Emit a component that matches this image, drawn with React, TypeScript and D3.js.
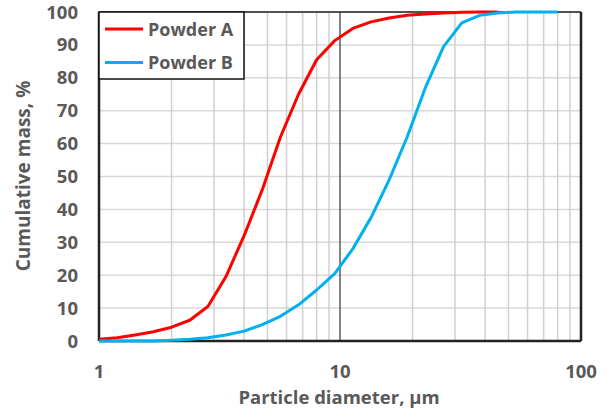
import React from "react";
import * as d3 from "d3";

// particle size classes, µm
const sizes = [1, 1.19, 1.41, 1.68, 2, 2.38, 2.83, 3.36, 4, 4.76, 5.66, 6.73, 8, 9.51, 11.3, 13.45, 16, 19, 22.6, 26.9, 32, 38, 45, 54, 64, 80];
// cumulative mass, %
const powderA = [0.5, 1.0, 1.8, 2.8, 4.2, 6.3, 10.5, 19.5, 32, 46, 62, 75, 85.5, 91.3, 95, 97, 98.2, 99, 99.4, 99.7, 99.9, 100, 100, null, null, null];
const powderB = [0, 0, 0, 0, 0.2, 0.5, 1, 1.8, 3, 5, 7.5, 11, 15.5, 20.5, 28, 37.5, 49, 62, 77, 89.5, 96.7, 99, 99.7, 100, 100, 100];
const seriesNames = ["Powder A", "Powder B"];
const seriesColors = ["#ff0000", "#00b0f0"];
const yTicks = [0, 10, 20, 30, 40, 50, 60, 70, 80, 90, 100];
const xTickLabels = [1, 10, 100];
const xGrid = [2, 3, 4, 5, 6, 7, 8, 9, 20, 30, 40, 50, 60, 70, 80, 90];

export default function App() {
  const width = 608, height = 419;
  const m = { left: 99, right: 581, top: 12, bottom: 341 };
  const x = d3.scaleLog().domain([1, 100]).range([m.left, m.right]);
  const y = d3.scaleLinear().domain([0, 100]).range([m.bottom, m.top]);
  const font = "'Open Sans', 'Liberation Sans', sans-serif";
  const textColor = "#595959";

  const series = [powderA, powderB];
  const line = d3.line<number | null>()
    .defined(d => d !== null)
    .x((_, i) => x(sizes[i]))
    .y(d => y(d as number));

  return (
    <svg width={width} height={height} style={{ position: "absolute", left: 0, top: 0, background: "#fff" }}>
      {/* gridlines */}
      {yTicks.map(t => (
        <line key={"gy" + t} x1={m.left} x2={m.right} y1={y(t)} y2={y(t)} stroke="#d9d9d9" strokeWidth={1.5} />
      ))}
      {xGrid.map(t => (
        <line key={"gx" + t} x1={x(t)} x2={x(t)} y1={m.top} y2={m.bottom} stroke="#d0d0d0" strokeWidth={1.5} />
      ))}
      <line x1={x(10)} x2={x(10)} y1={m.top} y2={m.bottom} stroke="#333" strokeWidth={1.2} />

      {/* frame */}
      <line x1={m.left} x2={m.right} y1={m.top} y2={m.top} stroke="#222" strokeWidth={1.5} />
      <line x1={m.right} x2={m.right} y1={m.top} y2={m.bottom} stroke="#222" strokeWidth={2.5} />
      <line x1={m.left} x2={m.right} y1={m.bottom} y2={m.bottom} stroke="#222" strokeWidth={2.5} />
      <line x1={m.left} x2={m.left} y1={m.top} y2={m.bottom} stroke="#222" strokeWidth={2.5} />

      {/* curves, B drawn over A */}
      {series.map((s, i) => (
        <path key={seriesNames[i]} d={line(s) || ""} fill="none" stroke={seriesColors[i]} strokeWidth={3} strokeLinejoin="round" />
      ))}

      {/* tick labels */}
      {yTicks.map(t => (
        <text key={"ty" + t} x={78} y={y(t) + 6.5} textAnchor="end" fontFamily={font} fontWeight="bold" fontSize={18.5} fill={textColor}>{t}</text>
      ))}
      {xTickLabels.map(t => (
        <text key={"tx" + t} x={x(t)} y={378} textAnchor="middle" fontFamily={font} fontWeight="bold" fontSize={18.5} fill={textColor}>{t}</text>
      ))}

      {/* axis titles */}
      <text x={339} y={404} textAnchor="middle" fontFamily={font} fontWeight="bold" fontSize={18.5} fill={textColor}>Particle diameter, µm</text>
      <text transform={`translate(30, 176) rotate(-90)`} textAnchor="middle" fontFamily={font} fontWeight="bold" fontSize={19} fill={textColor}>Cumulative mass, %</text>

      {/* legend */}
      <rect x={m.left} y={m.top} width={145} height={67} fill="#fff" stroke="#111" strokeWidth={1.5} />
      {seriesNames.map((name, i) => (
        <g key={"lg" + name} transform={`translate(0, ${29 + i * 33.5})`}>
          <line x1={105} x2={143} y1={0} y2={0} stroke={seriesColors[i]} strokeWidth={3} />
          <text x={148} y={6.5} fontFamily={font} fontWeight="bold" fontSize={18} fill={textColor}>{name}</text>
        </g>
      ))}
    </svg>
  );
}
